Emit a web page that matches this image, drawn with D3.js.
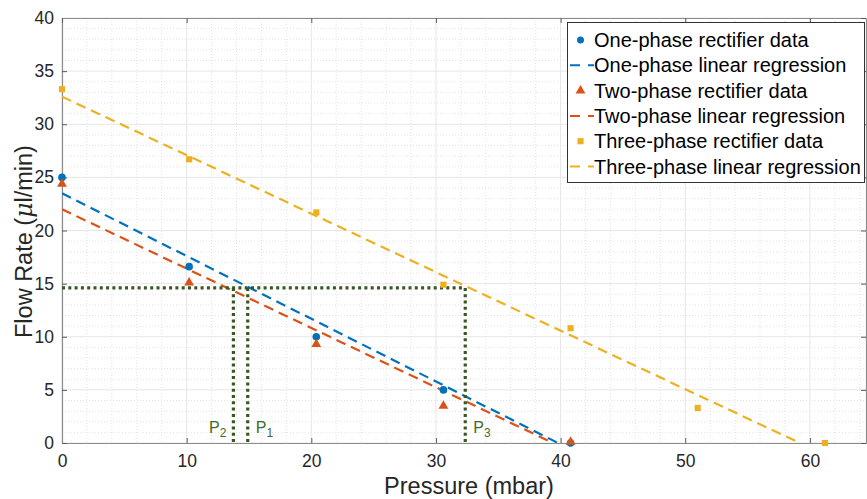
<!DOCTYPE html>
<html><head><meta charset="utf-8">
<script src="https://cdn.jsdelivr.net/npm/d3@7"></script>
<style>body{margin:0;background:#fff;} svg{display:block;font-family:"Liberation Sans",Arial,sans-serif;}</style>
</head><body><svg id="c" width="867" height="499"></svg>
<script>
// ---- data ----
const pressure = [0, 10.2, 20.4, 30.6, 40.8, 51.0, 61.2];
const onePhase = [25.0, 16.6, 10.0, 5.0, 0.0];
const twoPhase = [24.3, 15.0, 9.2, 3.4, 0.0];
const threePhase = [33.3, 26.7, 21.7, 14.9, 10.8, 3.3, 0.0];
// regression lines (read endpoints: intercept at 0 mbar, crossing at 0 flow)
const oneFit = [[0, 23.5], [39.8, 0]];
const twoFit = [[0, 22.0], [39.4, 0]];
const threeFit = [[0, 32.6], [59.2, 0]];
const flowLevel = 14.6;
const pMarks = [{name:"P", sub:"2", x:13.75, side:"left"}, {name:"P", sub:"1", x:14.9, side:"right"}, {name:"P", sub:"3", x:32.35, side:"right"}];
const xTicks = [0, 10, 20, 30, 40, 50, 60];
const yTicks = [0, 5, 10, 15, 20, 25, 30, 35, 40];
const legendLabels = ["One-phase rectifier data","One-phase linear regression","Two-phase rectifier data","Two-phase linear regression","Three-phase rectifier data","Three-phase linear regression"];

const C1 = "#0072BD", C2 = "#D95319", C3 = "#EDB120", G = "#385723";
const L = 62, R = 866, T = 18, B = 443;
const svg = d3.select("#c");
const x = d3.scaleLinear().domain([0, 64.5]).range([L, R]);
const y = d3.scaleLinear().domain([0, 40]).range([B, T]);

svg.append("defs").append("clipPath").attr("id","clip").append("rect")
  .attr("x",L).attr("y",T).attr("width",R-L).attr("height",B-T);

// minor grid
const xMinor = d3.range(0, 65, 2).filter(v => v % 10 !== 0);
const yMinor = d3.range(0, 41, 1).filter(v => v % 5 !== 0);
const g = svg.append("g");
g.selectAll(".mx").data(xMinor).join("line").attr("x1",d=>x(d)).attr("x2",d=>x(d)).attr("y1",T).attr("y2",B)
  .attr("stroke","#e3e3e3").attr("stroke-width",1).attr("stroke-dasharray","1,2");
g.selectAll(".my").data(yMinor).join("line").attr("y1",d=>y(d)).attr("y2",d=>y(d)).attr("x1",L).attr("x2",R)
  .attr("stroke","#e3e3e3").attr("stroke-width",1).attr("stroke-dasharray","1,2");
// major grid
g.selectAll(".Mx").data(xTicks).join("line").attr("x1",d=>x(d)).attr("x2",d=>x(d)).attr("y1",T).attr("y2",B)
  .attr("stroke","#e6e6e6").attr("stroke-width",1);
g.selectAll(".My").data(yTicks).join("line").attr("y1",d=>y(d)).attr("y2",d=>y(d)).attr("x1",L).attr("x2",R)
  .attr("stroke","#e6e6e6").attr("stroke-width",1);

// axes
const axB = svg.append("g").attr("transform",`translate(0,${B})`)
  .call(d3.axisBottom(x).tickValues(xTicks).tickSizeInner(-5).tickSizeOuter(0).tickPadding(12));
const axL = svg.append("g").attr("transform",`translate(${L},0)`)
  .call(d3.axisLeft(y).tickValues(yTicks).tickSizeInner(-5).tickSizeOuter(0).tickPadding(8));
const axT = svg.append("g").attr("transform",`translate(0,${T})`)
  .call(d3.axisTop(x).tickValues(xTicks).tickSizeInner(-5).tickSizeOuter(0).tickFormat(""));
const axR = svg.append("g").attr("transform",`translate(${R},0)`)
  .call(d3.axisRight(y).tickValues(yTicks).tickSizeInner(-5).tickSizeOuter(0).tickFormat(""));
[axB, axL, axT, axR].forEach(a => {
  a.selectAll("path").attr("stroke","#8c8c8c").attr("stroke-width",1.2);
  a.selectAll("line").attr("stroke","#5a5a5a");
  a.selectAll("text").attr("fill","#262626").style("font-size","17.5px").style("font-family","Liberation Sans, Arial, sans-serif");
});

const plot = svg.append("g").attr("clip-path","url(#clip)");
const line = d3.line().x(d=>x(d[0])).y(d=>y(d[1]));

// green guide lines
const gl = svg.append("g");
gl.append("path").attr("d", line([[0, flowLevel], [pMarks[2].x, flowLevel]]))
  .attr("stroke",G).attr("stroke-width",3.2).attr("stroke-dasharray","3,3.3").attr("fill","none");
pMarks.forEach(p => {
  gl.append("path").attr("d", line([[p.x, flowLevel], [p.x, 0]]))
    .attr("stroke",G).attr("stroke-width",3.2).attr("stroke-dasharray","3,3.3").attr("fill","none");
  const t = gl.append("text").attr("y", y(0) - 10).attr("fill","#3e6d27").style("font-size","16px")
    .attr("x", p.side === "left" ? x(p.x) - 7 : x(p.x) + 8)
    .attr("text-anchor", p.side === "left" ? "end" : "start");
  t.append("tspan").text(p.name);
  t.append("tspan").text(p.sub).attr("dy", 4).style("font-size","12px");
});

const symTri = d3.symbol().type(d3.symbolTriangle).size(42);
const symSq = d3.symbol().type(d3.symbolSquare).size(38);

function drawSeries(vals, fit, color, kind) {
  plot.append("path").attr("d", line(fit)).attr("stroke",color).attr("stroke-width",2.2)
    .attr("stroke-dasharray","10,6").attr("fill","none");
  const pts = vals.map((v,i) => [pressure[i], v]);
  if (kind === "circle") {
    svg.selectAll(null).data(pts).join("circle").attr("cx",d=>x(d[0])).attr("cy",d=>y(d[1])).attr("r",3.8).attr("fill",color);
  } else {
    svg.selectAll(null).data(pts).join("path").attr("d", kind === "tri" ? symTri : symSq)
      .attr("transform",d=>`translate(${x(d[0])},${y(d[1]) + (kind==="tri" ? -1 : 0)})`).attr("fill",color);
  }
}
drawSeries(onePhase, oneFit, C1, "circle");
drawSeries(twoPhase, twoFit, C2, "tri");
drawSeries(threePhase, threeFit, C3, "sq");

// axis labels
svg.append("text").attr("x", (L+R)/2 + 5).attr("y", 494).attr("text-anchor","middle")
  .attr("fill","#262626").style("font-size","23.5px").text("Pressure (mbar)");
const yl = svg.append("text").attr("transform",`translate(32,338) rotate(-90)`).attr("text-anchor","start")
  .attr("fill","#262626").style("font-size","23.5px");
yl.append("tspan").text("Flow Rate (");
yl.append("tspan").text("μ").style("font-style","italic").style("font-family","DejaVu Serif, serif");
yl.append("tspan").text("l/min)");

// legend
const lg = svg.append("g");
lg.append("rect").attr("x",567.5).attr("y",22.5).attr("width",297).attr("height",160)
  .attr("fill","#fff").attr("stroke","#333").attr("stroke-width",1);
const colors = [C1, C1, C2, C2, C3, C3];
legendLabels.forEach((lab, i) => {
  const cy = 40 + i * 25.3;
  if (i % 2 === 0) {
    if (i === 0) lg.append("circle").attr("cx",580.5).attr("cy",cy).attr("r",3.5).attr("fill",colors[i]);
    else lg.append("path").attr("d", i === 2 ? symTri : symSq).attr("transform",`translate(580.5,${cy})`).attr("fill",colors[i]);
  } else {
    lg.append("line").attr("x1",570).attr("x2",594).attr("y1",cy).attr("y2",cy)
      .attr("stroke",colors[i]).attr("stroke-width",2).attr("stroke-dasharray","10,8");
  }
  lg.append("text").attr("x",594).attr("y",cy + 7).attr("fill","#000").style("font-size","20px").text(lab);
});
</script></body></html>
